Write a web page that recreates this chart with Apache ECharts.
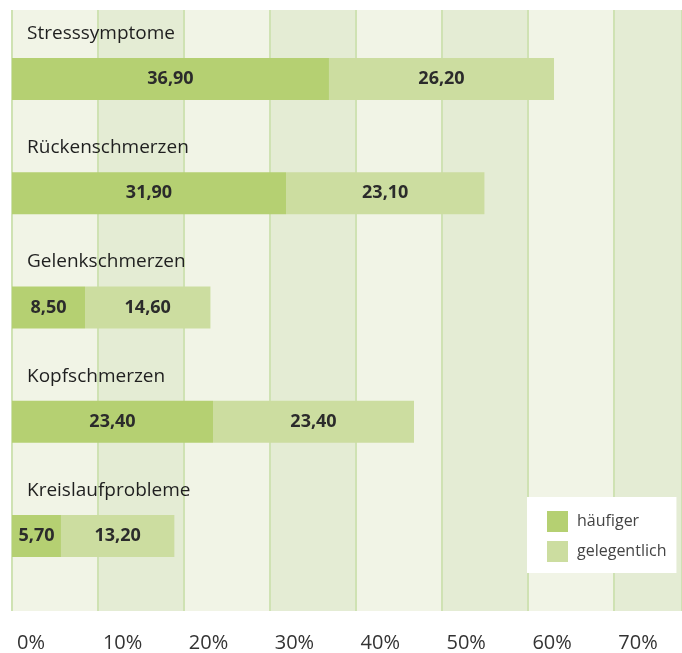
<!DOCTYPE html>
<html>
<head>
<meta charset="utf-8">
<script src="https://cdn.jsdelivr.net/npm/echarts@6/dist/echarts.min.js"></script>
<style>
  html, body { margin: 0; padding: 0; background: #fff; }
  #chart { width: 682px; height: 653px; }
</style>
</head>
<body>
<div id="chart"></div>
<script>
// Daten
const categories = ['Stresssymptome', 'Rückenschmerzen', 'Gelenkschmerzen', 'Kopfschmerzen', 'Kreislaufprobleme'];
const haeufiger = [36.9, 31.9, 8.5, 23.4, 5.7];
const gelegentlich = [26.2, 23.1, 14.6, 23.4, 13.2];
const tickLabels = ['0%', '10%', '20%', '30%', '40%', '50%', '60%', '70%'];

const FONT = '"Open Sans", "DejaVu Sans", sans-serif';
const fmt = v => v.toFixed(2).replace('.', ',');

const chart = echarts.init(document.getElementById('chart'));

const barLabel = {
  show: true,
  position: 'inside',
  fontSize: 18,
  fontWeight: 'bold',
  color: '#2b2b2b',
  fontFamily: FONT,
  formatter: p => fmt(p.value)
};

const option = {
  animation: false,
  textStyle: { fontFamily: FONT },
  legend: {
    orient: 'vertical',
    left: 527,
    top: 497,
    backgroundColor: '#fff',
    padding: [14, 10, 11, 20],
    itemWidth: 21,
    itemHeight: 21,
    itemGap: 9,
    icon: 'rect',
    textStyle: { fontSize: 16, color: '#444', fontFamily: FONT, padding: [0, 0, 0, 4] },
    data: ['häufiger', 'gelegentlich']
  },
  grid: [
    // hintergrund mit streifen
    { left: 12, right: 0, top: 10, bottom: 42 },
    // balken
    { left: 12, right: 0, top: 22, height: 571 }
  ],
  xAxis: [
    {
      gridIndex: 0,
      type: 'value',
      min: 0,
      max: 78,
      interval: 10,
      axisLine: { show: false },
      axisTick: { show: false },
      axisLabel: {
        align: 'left',
        margin: 22,
        padding: [0, 0, 0, 5],
        fontSize: 20,
        color: '#333',
        fontFamily: FONT,
        showMaxLabel: false,
        formatter: v => tickLabels[v / 10] || ''
      },
      splitLine: { show: true, lineStyle: { color: '#cfe2b3', width: 2 } },
      splitArea: { show: true, areaStyle: { color: ['#f1f4e6', '#e4ecd4'] } }
    },
    {
      gridIndex: 1,
      type: 'value',
      min: 0,
      max: 78,
      show: false
    }
  ],
  yAxis: [
    { gridIndex: 0, type: 'value', show: false },
    {
      gridIndex: 1,
      type: 'category',
      inverse: true,
      data: categories,
      axisLine: { show: false },
      axisTick: { show: false },
      axisLabel: {
        inside: true,
        align: 'left',
        verticalAlign: 'bottom',
        margin: 15,
        padding: [0, 0, 36, 0],
        fontSize: 19,
        color: '#1f1f1f',
        fontFamily: FONT
      }
    }
  ],
  series: [
    {
      name: 'häufiger',
      type: 'bar',
      xAxisIndex: 1,
      yAxisIndex: 1,
      stack: 'gesamt',
      barWidth: 42,
      itemStyle: { color: '#b5d072' },
      label: barLabel,
      data: haeufiger
    },
    {
      name: 'gelegentlich',
      type: 'bar',
      xAxisIndex: 1,
      yAxisIndex: 1,
      stack: 'gesamt',
      barWidth: 42,
      itemStyle: { color: '#ccdda0' },
      label: barLabel,
      data: gelegentlich
    }
  ]
};

chart.setOption(option);
</script>
</body>
</html>
